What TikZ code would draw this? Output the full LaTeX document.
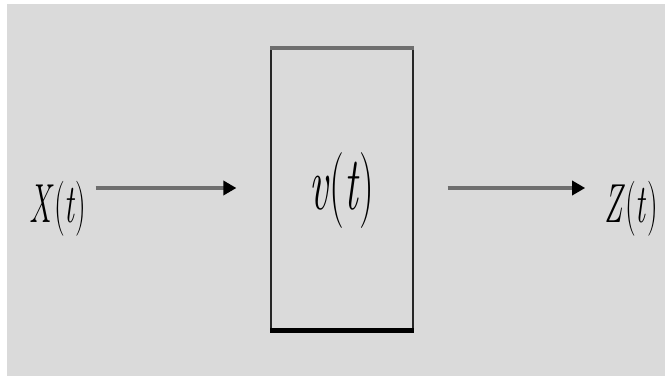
\documentclass[tikz,border=0pt]{standalone}
\usepackage{fontspec}
\usepackage{xcolor}
\usetikzlibrary{arrows.meta, positioning}

\definecolor{panelgray}{HTML}{DADADA}
\definecolor{linegray}{HTML}{6E6E6E}

\begin{document}
\begin{tikzpicture}[
    x=1pt, y=1pt,
    signal_label/.style={inner sep=0pt, anchor=base, xscale=0.55, transform shape, font=\fontsize{55}{60}\selectfont},
    sys_block/.style={rectangle, draw=black!85, line width=1.2pt, minimum width=142pt, minimum height=281pt, inner sep=0pt},
    arrow/.style={-{Triangle[length=13pt, width=14pt, color=black]}, draw=linegray, line width=4pt}
]

% Background
\fill[white] (0,0) rectangle (665,376);
\fill[panelgray] (7,0) rectangle (665,372);

% System block
\node[sys_block] (sys) at (342,187) {};
\draw[linegray, line width=4.5pt] (sys.north west) -- (sys.north east);
\draw[black, line width=5pt] (sys.south west) -- (sys.south east);
\node[signal_label, font=\fontsize{76}{84}\selectfont] (sysname) at (342,167) {\textit{v}(\textit{t})};

% Input and output
\node[signal_label] (xin) at (58,154) {\textit{X}(\textit{t})};
\node[signal_label] (zout) at (631,154) {\textit{Z}(\textit{t})};

% Arrows
\draw[arrow] ([xshift=9pt]xin.east |- 0,188) -- ([xshift=-34pt]sys.west |- 0,188);
\draw[arrow] ([xshift=34pt]sys.east |- 0,188) -- ([xshift=-19pt]zout.west |- 0,188);

\end{tikzpicture}
\end{document}
